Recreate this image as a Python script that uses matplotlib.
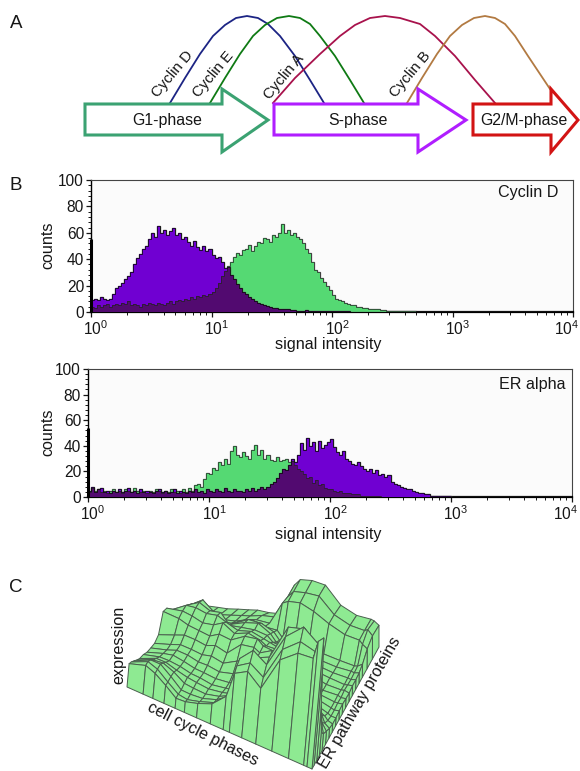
import numpy as np
import matplotlib
matplotlib.use("Agg")
import matplotlib.pyplot as plt
from matplotlib.collections import PolyCollection
from matplotlib.patches import Polygon
from matplotlib.ticker import LogLocator, LogFormatterMathtext, MultipleLocator, NullFormatter
from matplotlib.transforms import ScaledTranslation

plt.rcParams['font.family'] = ['Liberation Sans', 'DejaVu Sans']
plt.rcParams['mathtext.fontset'] = 'custom'
plt.rcParams['mathtext.rm'] = 'Liberation Sans'

W, H = 580, 771
BINS_PER_DECADE = 40
N_BINS = 160

# Panel A: phases (x start, shaft end, tip) and cyclin curves
phase_names = ["G1-phase", "S-phase", "G2/M-phase"]
phase_x = [(85, 222, 268), (274, 418, 466), (473, 551, 578)]
phase_colors = ["#3ba272", "#b01eff", "#d21414"]
cyclin_names = ["Cyclin D", "Cyclin E", "Cyclin A", "Cyclin B"]
cyclin_colors = ["#1c2484", "#0f7a14", "#a8124c", "#b27a42"]
cyclin_x = [
    [170, 185, 200, 213, 225, 236, 247, 258, 268, 280, 295, 310, 324],
    [210, 225, 240, 253, 265, 277, 289, 300, 310, 320, 335, 350, 364],
    [273, 295, 320, 340, 355, 370, 385, 400, 420, 435, 455, 475, 495],
    [407, 422, 437, 450, 462, 474, 485, 495, 505, 515, 528, 540, 550],
]
cyclin_y = [103, 78, 54, 36, 25, 18, 16, 18, 24, 36, 56, 80, 103]
cyclin_y_b = [103, 78, 54, 36, 25, 18, 16, 18, 24, 36, 56, 74, 89]

# Panel B: histogram counts per channel
cycd_purple = [9,10,9,11,10,9,10,14,18,20,22,25,27,30,36,41,44,48,50,55,60,57,65,60,62,58,61,64,58,60,55,57,53,50,54,49,47,50,46,48,
               43,41,42,38,33,34,28,25,21,18,15,14,11,10,8,7,6,5,4.5,4,3,3,2.5,2,2,2,1.5,1.5,1,1,1,1.5,1,1,1,0.5,1,0.5,0.5,1,
               0.5,0.5,0.5,0.5,0.5,0.5,0.3,0.3,0.3,0.3]
cycd_green = [4,3,5,4,5,6,4,5,6,5,7,6,8,5,6,5,4,6,5,7,6,5,7,6,5,7,8,6,8,9,8,10,9,11,10,12,11,13,12,14,
              15,18,22,27,31,35,38,42,45,43,47,48,51,46,50,53,52,56,55,53,58,57,60,67,60,62,58,60,57,55,52,48,45,38,32,30,26,23,20,17,
              13,10,9,8,7,6,5,5,4,4,3,3,2,2,2,2,1.5,1.5,1,1,1,1,1,1,0.5,0.5,0.5,0.5,0.3,0.3]
era_purple = [5,8,4,6,7,4,5,3,5,4,6,4,5,7,4,5,3,6,4,5,4,3,5,6,4,5,3,4,6,3,5,4,3,5,4,6,4,5,3,6,
              5,4,6,5,4,7,5,4,6,5,5,4,6,5,7,5,6,8,6,8,10,12,15,19,22,21,25,30,27,33,42,37,46,40,43,36,44,38,41,43,
              45,39,35,33,36,30,28,26,25,27,24,22,20,22,19,21,17,18,16,17,12,10,9,8,7,6,6,5,4,3,3,2,2,1,1,1,0.5,1,0.5,0.5]
era_green = [4,7,5,6,4,5,3,5,6,4,5,3,6,5,4,7,5,4,5,3,5,4,6,5,3,5,4,6,4,5,3,6,4,7,5,9,10,8,14,19,
             18,23,21,27,25,30,26,36,40,33,31,35,32,30,37,41,33,37,30,33,29,28,31,28,29,30,27,28,25,22,20,18,15,16,11,13,9,10,7,6,
             6,5,4,5,3,3,3,2,2,2,1,1,1,1,0.5,0.5,0.5,0.3]
xtick_decades = [0, 1, 2, 3, 4]
count_ticks = [0, 20, 40, 60, 80, 100]
panel_titles = ["Cyclin D", "ER alpha"]

# Panel C: surface grid and heights, rows from the front edge to the back edge
phase_grid = [0, .087, .14, .2, .26, .31, .376, .45, .52, .553, .62, .696, .783, .873, .955, .973, 1]
protein_grid = [0, .03, .07, .11, .15, .2, .25, .3, .35, .4, .45, .5, .55, .6, .65, .7, .75, .82, .9, 1]
surface_heights = [
    [70, 86, 75, 54, 30, 32, 43, 60, 100, 177, 199, 167, 274, 316, 321, 376, 393],
    [68, 90, 80, 56, 34, 30, 40, 55, 90, 190, 215, 190, 295, 340, 330, 340, 300],
    [62, 85, 85, 62, 36, 35, 38, 52, 80, 200, 240, 215, 320, 370, 340, 300, 150],
    [55, 75, 78, 65, 45, 42, 40, 50, 70, 170, 205, 225, 335, 350, 300, 200, 70],
    [50, 70, 70, 60, 52, 48, 44, 50, 60, 110, 170, 185, 280, 270, 230, 110, 50],
    [50, 62, 62, 58, 50, 48, 42, 48, 55, 75, 125, 130, 165, 155, 125, 60, 40],
    [45, 60, 66, 60, 52, 50, 46, 50, 62, 70, 100, 120, 110, 90, 60, 40, 30],
    [46, 58, 68, 66, 58, 58, 52, 62, 78, 85, 110, 115, 80, 60, 40, 30, 25],
    [48, 62, 72, 70, 66, 72, 64, 85, 100, 112, 125, 100, 65, 45, 30, 25, 25],
    [62, 78, 88, 86, 80, 90, 80, 120, 125, 115, 135, 90, 60, 40, 28, 25, 28],
    [120, 115, 105, 100, 95, 110, 105, 130, 135, 120, 115, 80, 50, 35, 28, 28, 30],
    [118, 125, 120, 110, 115, 130, 110, 125, 115, 105, 105, 70, 45, 30, 30, 26, 28],
    [100, 130, 132, 125, 130, 118, 105, 115, 105, 100, 90, 60, 45, 30, 28, 30, 26],
    [85, 120, 135, 120, 125, 95, 100, 105, 100, 85, 80, 55, 40, 32, 26, 28, 30],
    [72, 110, 130, 105, 85, 85, 100, 110, 90, 70, 70, 50, 38, 30, 28, 26, 30],
    [60, 88, 100, 75, 65, 75, 95, 95, 80, 60, 60, 45, 36, 30, 30, 28, 32],
    [40, 55, 65, 50, 50, 65, 80, 70, 70, 50, 55, 45, 38, 32, 28, 30, 40],
    [22, 30, 35, 35, 40, 50, 60, 60, 130, 140, 145, 130, 105, 85, 80, 70, 60],
    [14, 20, 22, 28, 35, 40, 50, 55, 125, 145, 150, 150, 105, 85, 80, 85, 70],
    [8, 12, 14, 20, 25, 30, 30, 35, 130, 150, 155, 150, 100, 80, 78, 75, 65],
]

fig = plt.figure(figsize=(W / 100, H / 100), dpi=100, facecolor="white")
TXT = "#161616"
FS = 11.6


def px_axes(l, t, r, b, **kw):
    return fig.add_axes([l / W, 1 - b / H, (r - l) / W, (b - t) / H], **kw)


def pad(values):
    return np.array(list(values) + [0] * (N_BINS - len(values)), dtype=float)


def histogram(box, purple, green, title, title_xy, spike):
    ax = px_axes(*box, facecolor="#fbfbfb")
    edges = 10 ** (np.arange(N_BINS + 1) / BINS_PER_DECADE)
    p, g = pad(purple), pad(green)
    both = np.minimum(p, g)
    ax.stairs(g, edges, color="#8a8a8a", lw=1.0, zorder=2.5)
    ax.stairs(p, edges, color="#555555", lw=1.0, zorder=3.5)
    for vals, col, z in ((g, "#55d973", 2.6), (p, "#7000d2", 3.6), (both, "#520a70", 4)):
        ax.stairs(vals, edges, fill=True, color=col, zorder=z, lw=0)
    ax.stairs(g, edges, color="#222222", lw=0.5, zorder=5)
    ax.stairs(p, edges, color="#0a0a0a", lw=0.55, zorder=5)
    ax.vlines(1, 0, spike, color="black", lw=2.2, zorder=6, clip_on=False)
    ax.set_xscale("log")
    ax.set_xlim(1, 10 ** 4)
    ax.set_ylim(0, 100)
    ax.set_xticks([10 ** d for d in xtick_decades])
    ax.xaxis.set_major_formatter(LogFormatterMathtext())
    ax.xaxis.set_minor_locator(LogLocator(base=10, subs=np.arange(2, 10) * 1.0, numticks=20))
    ax.xaxis.set_minor_formatter(NullFormatter())
    ax.set_yticks(count_ticks)
    ax.yaxis.set_minor_locator(MultipleLocator(4))
    ax.tick_params(axis="both", which="major", length=3.5, width=0.9, labelsize=11.2, pad=1.5, colors=TXT)
    ax.tick_params(axis="both", which="minor", length=2, width=0.7, colors=TXT)
    fig.canvas.draw()
    shift = ScaledTranslation(5 / 100, 0, fig.dpi_scale_trans)
    labels = ax.get_xticklabels()
    for lab in labels:
        lab.set_transform(lab.get_transform() + shift)
    labels[-1].set_ha("right")
    labels[-1].set_transform(labels[-1].get_transform()
                             + ScaledTranslation(1 / 100, 0, fig.dpi_scale_trans))
    for s in ("top", "right"):
        ax.spines[s].set_color("#444444")
        ax.spines[s].set_linewidth(0.8)
    ax.spines["left"].set_linewidth(1.0)
    ax.spines["bottom"].set_linewidth(1.6)
    ov.text(*title_xy, title, fontsize=FS, ha="center", va="center", color=TXT)
    return ax


ov = px_axes(0, 0, W, H, facecolor="none", zorder=10)
ov.set_xlim(0, W)
ov.set_ylim(H, 0)
ov.axis("off")

# Panel letters
for letter, xy in zip("ABC", [(16, 23), (16, 185), (16, 587)]):
    ov.text(*xy, letter, fontsize=13.5, ha="center", va="center", color=TXT)

# Panel A
for i, name in enumerate(cyclin_names):
    ys = cyclin_y_b if i == 3 else cyclin_y
    ov.plot(cyclin_x[i], ys, color=cyclin_colors[i], lw=1.3, solid_joinstyle="round", zorder=2)
label_pos = [(173, 74), (213, 74), (284, 77), (410, 74)]
for name, xy in zip(cyclin_names, label_pos):
    ov.text(*xy, name, rotation=50, fontsize=10.8, ha="center", va="center",
            rotation_mode="anchor", color=TXT, zorder=5)
for name, (x0, x1, x2), col in zip(phase_names, phase_x, phase_colors):
    verts = [(x0, 104), (x1, 104), (x1, 89), (x2, 120), (x1, 152), (x1, 135), (x0, 135)]
    ov.add_patch(Polygon(verts, closed=True, facecolor="none", edgecolor=col, lw=2.2, joinstyle="miter", zorder=3))
label_x = [167, 358, 524]
for name, x in zip(phase_names, label_x):
    ov.text(x, 120, name, fontsize=11.4, ha="center", va="center", color=TXT, zorder=5)

# Panel B
histogram((91, 180, 573, 312), cycd_purple, cycd_green, panel_titles[0], (528, 193), 55)
histogram((88, 369, 572, 497), era_purple, era_green, panel_titles[1], (532, 384), 54)
for yc in (245, 432):
    ov.text(48, yc, "counts", rotation=90, fontsize=FS, ha="center", va="center", color=TXT)
for yc in (345, 535):
    ov.text(328, yc, "signal intensity", fontsize=FS, ha="center", va="center", color=TXT)

# Panel C: painter's algorithm on a bilinear ground plane
Z = np.array(surface_heights, dtype=float) / 3.0
nv, nu = Z.shape
L, B, R, K = map(np.array, [(127.0, 687.0), (312.0, 769.0), (379.0, 647.0), (203.0, 608.0)])


def ground(u, v):
    a, b = phase_grid[u], protein_grid[v]
    return (1 - b) * ((1 - a) * L + a * B) + b * ((1 - a) * K + a * R)


def top(u, v):
    g = ground(u, v)
    lean = 0.09 * Z[v, u] * (1 - protein_grid[v])
    return (g[0] + lean, g[1] - Z[v, u])


cells = []
for v in range(nv - 2, -1, -1):
    for u in range(nu - 1):
        depth = (protein_grid[v] + protein_grid[v + 1]) + (2 - phase_grid[u] - phase_grid[u + 1])
        cells.append((depth, [top(u, v), top(u + 1, v), top(u + 1, v + 1), top(u, v + 1)]))
for v in range(nv - 1):
    depth = protein_grid[v] + protein_grid[v + 1] - 0.01
    cells.append((depth, [top(nu - 1, v), top(nu - 1, v + 1), tuple(ground(nu - 1, v + 1)), tuple(ground(nu - 1, v))]))
for u in range(nu - 1):
    depth = 2 - phase_grid[u] - phase_grid[u + 1] - 0.01
    cells.append((depth, [top(u, 0), top(u + 1, 0), tuple(ground(u + 1, 0)), tuple(ground(u, 0))]))
cells.sort(key=lambda c: -c[0])
ov.add_collection(PolyCollection([c[1] for c in cells], facecolors="#8eea92", edgecolors="#4a5f4e",
                                 linewidths=0.7, zorder=2))
ov.text(119, 645, "expression", rotation=90, fontsize=FS, ha="center", va="center", color=TXT)
ov.text(203, 734, "cell cycle phases", rotation=-27, fontsize=FS, ha="center", va="center",
        rotation_mode="anchor", color=TXT)
ov.text(360, 703, "ER pathway proteins", rotation=60, fontsize=FS, ha="center", va="center",
        rotation_mode="anchor", color=TXT)

fig.savefig("out.png", dpi=100)
